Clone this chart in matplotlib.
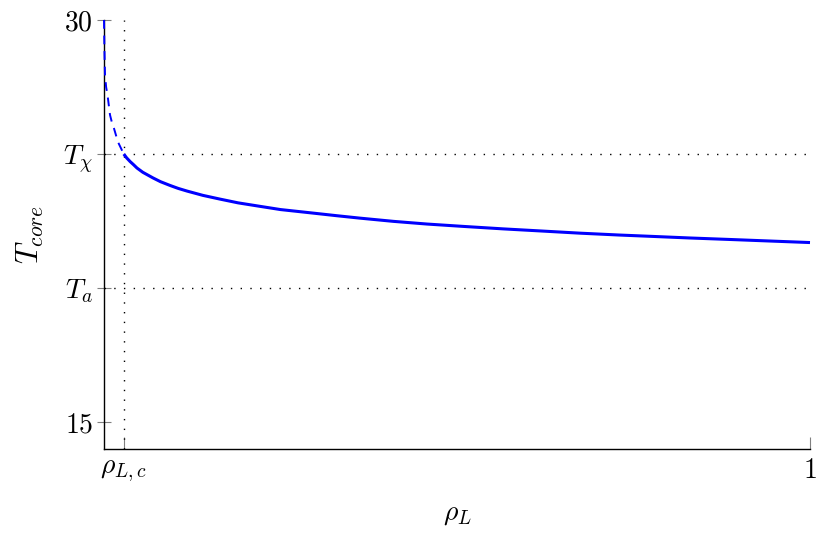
import matplotlib.pyplot as plt

plt.rcParams['mathtext.fontset'] = 'cm'
plt.rcParams['font.family'] = 'serif'
plt.rcParams['font.serif'] = ['cmr10', 'DejaVu Serif']
plt.rcParams['axes.formatter.use_mathtext'] = True

# values
rho_c = 0.028
T_chi = 25
T_a = 20

# dashed branch (below rho_c)
rho_dash = [0.0, 0.0003, 0.0007, 0.0014, 0.003, 0.005, 0.0085, 0.011, 0.014,
            0.017, 0.0198, 0.024, 0.028]
T_dash = [30.0, 29.44, 28.8, 27.95, 27.5, 27.2, 26.46, 26.2, 25.97,
          25.7, 25.45, 25.22, 25.0]

# solid branch (above rho_c)
rho_solid = [0.028, 0.032, 0.037, 0.042, 0.0467, 0.055, 0.0694, 0.08, 0.0935,
             0.105, 0.1176, 0.14, 0.1643, 0.19, 0.221, 0.25, 0.292, 0.33,
             0.3626, 0.41, 0.4575, 0.51, 0.5652, 0.62, 0.674, 0.73, 0.776,
             0.83, 0.891, 0.95, 1.0]
T_solid = [25.0, 24.86, 24.72, 24.60, 24.48, 24.32, 24.11, 23.97, 23.83,
           23.72, 23.62, 23.46, 23.32, 23.18, 23.05, 22.93, 22.81, 22.70,
           22.61, 22.49, 22.39, 22.30, 22.21, 22.13, 22.05, 21.98, 21.93,
           21.87, 21.81, 21.75, 21.70]

x_ticks = [rho_c, 1]
x_labels = [r'$\rho_{L,c}$', r'$1$']
y_ticks = [15, T_a, T_chi, 30]
y_labels = [r'$15$', r'$T_a$', r'$T_\chi$', r'$30$']

fig = plt.figure(figsize=(8.3, 5.34), dpi=100)
ax = fig.add_axes([104 / 830, 1 - 449 / 534, 706 / 830, 429 / 534])

ax.plot(rho_dash, T_dash, color='blue', lw=1.4, ls=(0, (4.5, 3.5)),
        clip_on=False, zorder=3)
ax.plot(rho_solid, T_solid, color='blue', lw=2.2, clip_on=False, zorder=3,
        solid_capstyle='butt', solid_joinstyle='round')

ax.axhline(T_chi, color='black', lw=1, ls=(0, (1, 6)))
ax.axhline(T_a, color='black', lw=1, ls=(0, (1, 6)))
ax.axvline(rho_c, color='black', lw=1, ls=(0, (1, 6)))

ax.set_xlim(0, 1)
ax.set_ylim(14, 30)
ax.set_xticks(x_ticks)
ax.set_xticklabels(x_labels)
ax.set_yticks(y_ticks)
ax.set_yticklabels(y_labels)

ax.spines['top'].set_visible(False)
ax.spines['right'].set_visible(False)
ax.spines['left'].set_linewidth(1)
ax.spines['bottom'].set_linewidth(1)

ax.tick_params(axis='y', direction='inout', length=10, width=0.8, color='gray',
               labelsize=20, pad=3)
ax.tick_params(axis='x', direction='in', length=9, width=0.8, color='gray',
               labelsize=20, pad=6)

ax.set_xlabel(r'$\rho_L$', fontsize=20, labelpad=12)
ax.set_ylabel(r'$T_{core}$', fontsize=22, labelpad=12)

plt.savefig('out.png', dpi=100)
